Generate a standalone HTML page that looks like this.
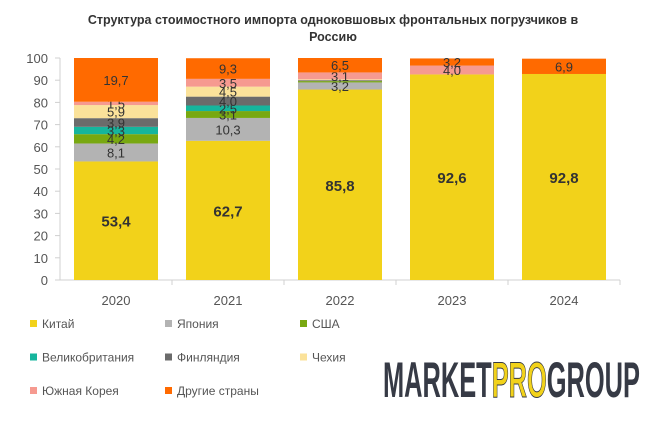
<!DOCTYPE html>
<html><head><meta charset="utf-8"><style>
body{margin:0;background:#fff;width:667px;height:416px;overflow:hidden;font-family:"Liberation Sans",sans-serif}
</style></head><body>
<svg id="chart" width="667" height="416" xmlns="http://www.w3.org/2000/svg">
<text x="333" y="24" text-anchor="middle" font-size="12.5" font-weight="bold" fill="#333">Структура стоимостного импорта одноковшовых фронтальных погрузчиков в</text>
<text x="333" y="41" text-anchor="middle" font-size="12.5" font-weight="bold" fill="#333">Россию</text>
<g id="axes"></g><g id="bars"></g><g id="legend"></g>
<text x="383" y="397" font-size="50" font-weight="bold" fill="#363a45" textLength="257" lengthAdjust="spacingAndGlyphs">MARKET<tspan fill="#f2d21a" stroke="#363a45" stroke-width="1">PRO</tspan>GROUP</text>
</svg>
<script>
const years=["2020","2021","2022","2023","2024"];
const seriesNames=["Китай","Япония","США","Великобритания","Финляндия","Чехия","Южная Корея","Другие страны"];
const china=[53.4,62.7,85.8,92.6,92.8];
const japan=[8.1,10.3,3.2,0,0];
const usa=[4.2,3.1,0.6,0,0];
const uk=[3.3,2.5,0,0,0];
const finland=[3.9,4.0,0.4,0,0];
const czech=[5.9,4.5,0.4,0,0];
const korea=[1.5,3.5,3.1,4.0,0];
const other=[19.7,9.3,6.5,3.2,6.9];
const yTicks=[0,10,20,30,40,50,60,70,80,90,100];
const series=[china,japan,usa,uk,finland,czech,korea,other];
const colors=["#f2d21a","#b3b3b3","#78a811","#16b59d","#6b6b6b","#fbe29a","#f69a90","#ff6a00"];
const NS="http://www.w3.org/2000/svg";
const y0=280,yTop=58,xL=60,xR=620;
const yS=v=>y0-(v/100)*(y0-yTop);
const band=(xR-xL)/years.length;
const xC=i=>xL+band*(i+0.5);
const bw=84;
function mk(t,a,p){const e=document.createElementNS(NS,t);for(const k in a)e.setAttribute(k,a[k]);p.appendChild(e);return e;}
const ax=document.getElementById('axes');
yTicks.forEach(t=>{
 const l=mk('line',{x1:xL-5,x2:xL,y1:yS(t),y2:yS(t),stroke:'#d0d0d0'},ax);
 
 
 const tx=mk('text',{x:xL-12,y:yS(t)+5,'text-anchor':'end','font-size':13,fill:'#555'},ax);tx.textContent=t;
 
 
});
const ya=mk('line',{x1:xL,x2:xL,y1:yTop,y2:y0,stroke:'#d0d0d0'},ax);


const xa=mk('line',{x1:xL,x2:xR,y1:y0,y2:y0,stroke:'#d0d0d0'},ax);


years.forEach((y,i)=>{
 const tk=mk('line',{x1:xL+band*(i+1),x2:xL+band*(i+1),y1:y0,y2:y0+5,stroke:'#d0d0d0'},ax);
 
 
 const tx=mk('text',{x:xC(i),y:y0+25,'text-anchor':'middle','font-size':13,fill:'#555'},ax);tx.textContent=y;
 
 
});
const bg=document.getElementById('bars');
years.forEach((y,i)=>{
 let cum=0;
 series.forEach((s,k)=>{
  const v=s[i];if(!v)return;
  const r=mk('rect',{x:xC(i)-bw/2,y:yS(cum+v),width:bw,height:yS(cum)-yS(cum+v),fill:colors[k]},bg);
  
  
  if(v>=1){
   const t=mk('text',{x:xC(i),y:(yS(cum)+yS(cum+v))/2+(v>30?6:5),'text-anchor':'middle','font-size':v>30?15:13,'font-weight':v>30?'bold':'normal',fill:'#333'},bg);
   t.textContent=v.toFixed(1).replace('.',',');
   
   
  }
  cum+=v;
 });
});
const lg=document.getElementById('legend');
seriesNames.forEach((n,k)=>{
 const col=k%3,row=Math.floor(k/3);
 const x=30+col*135,y=324+row*33.5;
 const r=mk('rect',{x:x,y:y-4,width:7,height:7,fill:colors[k]},lg);
 
 
 const t=mk('text',{x:x+12,y:y+4,'font-size':12,fill:'#555'},lg);t.textContent=n;
 
 
});
</script>
</body></html>
